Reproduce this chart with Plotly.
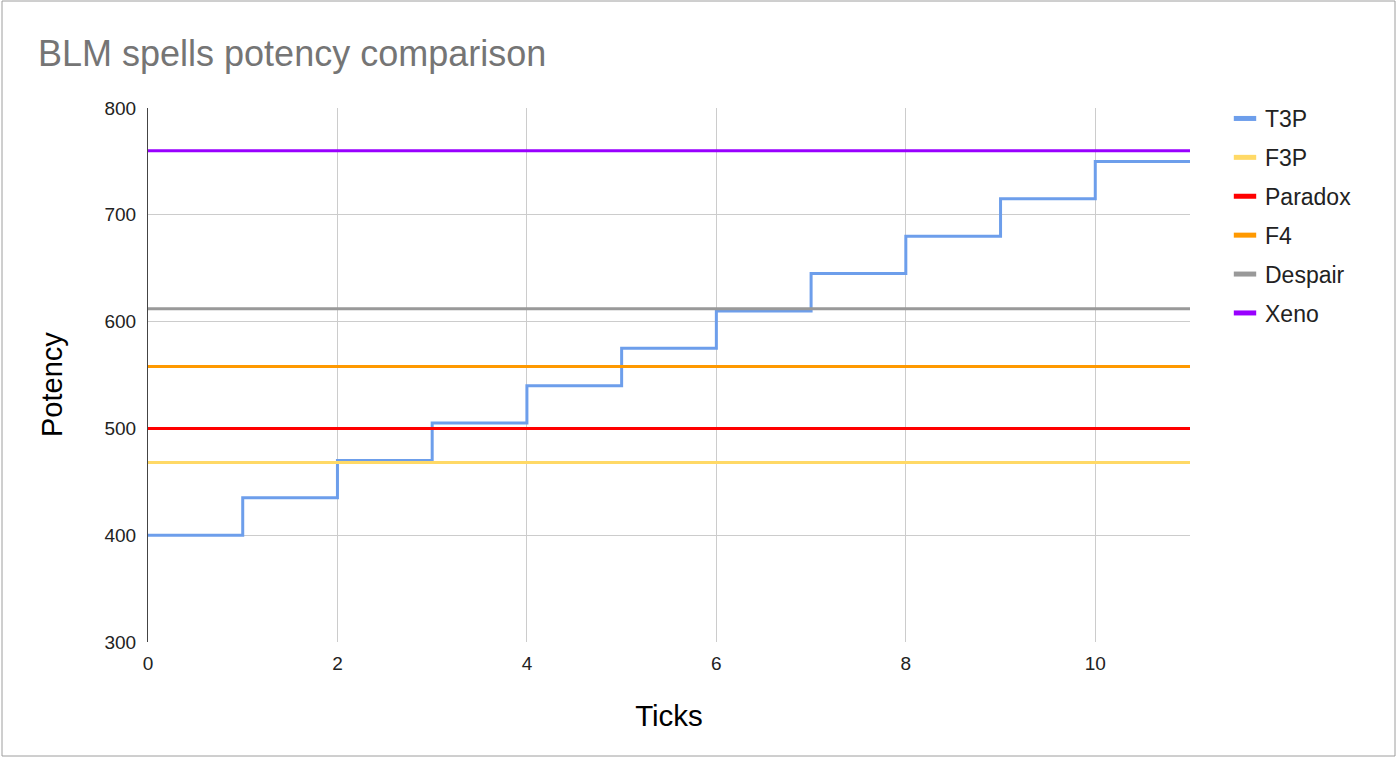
import plotly.graph_objects as go

ticks = [0, 1, 2, 3, 4, 5, 6, 7, 8, 9, 10, 11]
t3p = [400, 435, 470, 505, 540, 575, 610, 645, 680, 715, 750, 750]
f3p = 468
paradox = 500
f4 = 558
despair = 612
xeno = 760

series = [
    ("T3P", t3p, "#6d9eeb"),
    ("F3P", [f3p] * len(ticks), "#ffd966"),
    ("Paradox", [paradox] * len(ticks), "#ff0000"),
    ("F4", [f4] * len(ticks), "#ff9900"),
    ("Despair", [despair] * len(ticks), "#999999"),
    ("Xeno", [xeno] * len(ticks), "#9900ff"),
]

FONT = "Liberation Sans, Arial, sans-serif"

fig = go.Figure()
for i, (name, vals, col) in enumerate(series):
    fig.add_trace(go.Scatter(
        x=ticks, y=vals, name=name, mode="lines",
        line=dict(color=col, width=3, shape="hv"),
        showlegend=False,
    ))
# legend entries (short thick swatches)
for i, (name, vals, col) in enumerate(series):
    fig.add_trace(go.Scatter(
        x=[None], y=[None], name=name, mode="markers",
        marker=dict(symbol="line-ew", size=17, color=col, line=dict(color=col, width=6)),
        legendgroup=f"g{i}", showlegend=True, hoverinfo="skip",
    ))

W, H = 1397, 758
L, R, T, B = 148, 1190, 108, 642
pw, ph = R - L, B - T

fig.update_layout(
    width=W, height=H,
    margin=dict(l=L, r=W - R, t=T, b=H - B),
    paper_bgcolor="white", plot_bgcolor="white",
    font=dict(family=FONT, color="#222222"),
    title=dict(text="BLM spells potency comparison", x=38 / W, xanchor="left",
               y=1 - 53 / H, yanchor="middle",
               font=dict(size=36, color="#757575", family=FONT)),
    showlegend=True,
    legend=dict(x=(1225 - L) / pw, xanchor="left", y=1 - (97 - T) / ph, yanchor="top",
                font=dict(size=23, color="#222222", family=FONT),
                tracegroupgap=6, itemsizing="trace", bgcolor="rgba(0,0,0,0)"),
    xaxis=dict(range=[0, 11], tickvals=[0, 2, 4, 6, 8, 10], showgrid=True,
               gridcolor="#cccccc", gridwidth=1, zeroline=False, showline=False,
               tickfont=dict(size=19, color="#222222"), ticklabelstandoff=8,
               title=dict(text="Ticks", font=dict(size=29.5, color="#000000"), standoff=32)),
    yaxis=dict(range=[300, 800], tickvals=[300, 400, 500, 600, 700, 800], showgrid=True,
               gridcolor="#cccccc", gridwidth=1, zeroline=False, showline=True,
               linecolor="#444444", linewidth=1,
               tickfont=dict(size=19, color="#222222"), ticklabelstandoff=7),
    annotations=[dict(text="Potency", textangle=-90, xref="paper", yref="paper",
                      x=(52 - L) / pw, y=(B - 385) / ph, xanchor="center", yanchor="middle",
                      showarrow=False, font=dict(size=29, color="#000000", family=FONT))],
    shapes=[dict(type="rect", xref="paper", yref="paper",
                 x0=(2 - L) / pw, x1=(1395 - L) / pw,
                 y0=(B - 756) / ph, y1=(B - 1) / ph,
                 line=dict(color="#9e9e9e", width=1), layer="below")],
)

fig.write_html("out.html", config={"displayModeBar": False},
               post_script="document.body.style.margin='0';")
